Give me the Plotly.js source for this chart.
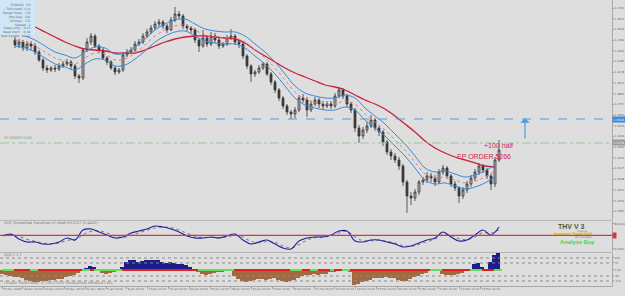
<!DOCTYPE html>
<html><head><meta charset="utf-8">
<script src="https://cdn.plot.ly/plotly-3.0.1.min.js"></script>
<style>html,body{margin:0;padding:0;background:#dedede;}#chart{width:625px;height:296px;}</style>
</head><body><div id="chart"></div>
<script>
// ---- H4 candles (price) ----
const openP = [1.440,1.435,1.438,1.432,1.436,1.434,1.428,1.420,1.412,1.410,
1.412,1.411,1.414,1.416,1.418,1.414,1.404,1.402,1.430,1.438,
1.444,1.434,1.430,1.422,1.418,1.412,1.408,1.410,1.425,1.428,
1.430,1.436,1.438,1.444,1.448,1.452,1.456,1.458,1.454,1.450,
1.460,1.466,1.464,1.454,1.452,1.450,1.440,1.434,1.442,1.436,
1.444,1.440,1.434,1.436,1.442,1.444,1.438,1.436,1.424,1.414,
1.406,1.408,1.412,1.416,1.406,1.398,1.390,1.382,1.374,1.368,
1.366,1.370,1.382,1.380,1.370,1.376,1.380,1.376,1.374,1.376,
1.374,1.384,1.390,1.384,1.376,1.370,1.352,1.344,1.350,1.354,
1.360,1.352,1.348,1.338,1.328,1.324,1.320,1.314,1.298,1.284,
1.282,1.288,1.298,1.300,1.304,1.302,1.298,1.308,1.312,1.304,
1.296,1.292,1.284,1.290,1.296,1.302,1.308,1.314,1.310,1.304,
1.296,1.320];
const highP = [1.443,1.441,1.440,1.439,1.439,1.437,1.430,1.422,1.415,1.414,
1.415,1.417,1.419,1.421,1.420,1.416,1.406,1.432,1.442,1.447,
1.446,1.436,1.432,1.424,1.420,1.414,1.412,1.428,1.431,1.433,
1.439,1.441,1.447,1.451,1.455,1.459,1.461,1.460,1.456,1.463,
1.473,1.469,1.466,1.456,1.454,1.452,1.442,1.450,1.444,1.448,
1.447,1.442,1.438,1.445,1.451,1.446,1.440,1.438,1.426,1.416,
1.410,1.415,1.418,1.418,1.408,1.400,1.392,1.384,1.376,1.370,
1.373,1.385,1.386,1.383,1.379,1.383,1.382,1.379,1.379,1.379,
1.387,1.393,1.392,1.386,1.378,1.372,1.355,1.353,1.358,1.365,
1.362,1.354,1.350,1.340,1.331,1.327,1.323,1.316,1.300,1.288,
1.291,1.300,1.303,1.308,1.307,1.305,1.311,1.315,1.314,1.306,
1.299,1.294,1.293,1.299,1.305,1.311,1.317,1.316,1.312,1.306,
1.323,1.340];
const lowP = [1.432,1.432,1.429,1.429,1.430,1.425,1.418,1.409,1.407,1.408,
1.408,1.409,1.412,1.414,1.411,1.401,1.397,1.400,1.428,1.435,
1.432,1.427,1.420,1.415,1.410,1.405,1.406,1.408,1.423,1.426,
1.428,1.434,1.436,1.442,1.446,1.450,1.453,1.451,1.447,1.449,
1.458,1.461,1.451,1.449,1.447,1.437,1.428,1.432,1.433,1.434,
1.437,1.431,1.432,1.434,1.440,1.435,1.432,1.421,1.411,1.398,
1.403,1.406,1.410,1.404,1.395,1.387,1.379,1.371,1.365,1.361,
1.362,1.368,1.377,1.363,1.368,1.374,1.372,1.370,1.372,1.371,
1.372,1.382,1.381,1.373,1.367,1.348,1.337,1.341,1.347,1.352,
1.349,1.344,1.334,1.325,1.320,1.317,1.310,1.294,1.267,1.275,
1.279,1.285,1.295,1.297,1.298,1.294,1.296,1.305,1.301,1.293,
1.289,1.277,1.281,1.287,1.293,1.299,1.305,1.307,1.301,1.290,
1.293,1.318];
const closeP = [1.435,1.438,1.432,1.436,1.434,1.428,1.420,1.412,1.410,1.412,
1.411,1.414,1.416,1.418,1.414,1.404,1.402,1.430,1.438,1.444,
1.434,1.430,1.422,1.418,1.412,1.408,1.410,1.425,1.428,1.430,
1.436,1.438,1.444,1.448,1.452,1.456,1.458,1.454,1.450,1.460,
1.466,1.464,1.454,1.452,1.450,1.440,1.434,1.442,1.436,1.444,
1.440,1.434,1.436,1.442,1.444,1.438,1.436,1.424,1.414,1.406,
1.408,1.412,1.416,1.406,1.398,1.390,1.382,1.374,1.368,1.366,
1.370,1.382,1.380,1.370,1.376,1.380,1.376,1.374,1.376,1.374,
1.384,1.390,1.384,1.376,1.370,1.352,1.344,1.350,1.354,1.360,
1.352,1.348,1.338,1.328,1.324,1.320,1.314,1.298,1.284,1.282,
1.288,1.298,1.300,1.304,1.302,1.298,1.308,1.312,1.304,1.296,
1.292,1.284,1.290,1.296,1.302,1.308,1.314,1.310,1.304,1.296,
1.320,1.330];

// ---- moving averages (sampled every 2.5 bars) ----
const slowMA = [1.460,1.457,1.453,1.448,1.443,1.438,1.434,1.431,1.430,1.429,
1.427,1.427,1.427,1.430,1.434,1.438,1.441,1.443,1.444,1.444,
1.443,1.442,1.441,1.437,1.430,1.424,1.418,1.412,1.407,1.403,
1.399,1.395,1.393,1.390,1.385,1.380,1.376,1.371,1.364,1.356,
1.348,1.339,1.332,1.327,1.323,1.320,1.317,1.314,1.313];
const bandMid = [1.440,1.438,1.434,1.428,1.422,1.419,1.416,1.422,1.427,1.426,
1.420,1.421,1.427,1.435,1.444,1.450,1.454,1.455,1.450,1.445,
1.443,1.442,1.442,1.438,1.430,1.422,1.412,1.400,1.388,1.381,
1.378,1.376,1.376,1.379,1.376,1.366,1.358,1.350,1.340,1.330,
1.318,1.306,1.302,1.303,1.300,1.297,1.299,1.303,1.309];
const bandUp = [1.446,1.444,1.440,1.434,1.428,1.425,1.422,1.428,1.433,1.432,
1.426,1.427,1.433,1.441,1.450,1.456,1.460,1.461,1.456,1.451,
1.449,1.448,1.448,1.444,1.436,1.428,1.418,1.406,1.394,1.387,
1.384,1.382,1.382,1.385,1.382,1.372,1.364,1.356,1.346,1.336,
1.324,1.312,1.308,1.309,1.306,1.303,1.305,1.309,1.315];
const bandDn = [1.434,1.432,1.428,1.422,1.416,1.413,1.410,1.416,1.421,1.420,
1.414,1.415,1.421,1.429,1.438,1.444,1.448,1.449,1.444,1.439,
1.437,1.436,1.436,1.432,1.424,1.416,1.406,1.394,1.382,1.375,
1.372,1.370,1.370,1.373,1.370,1.360,1.352,1.344,1.334,1.324,
1.312,1.300,1.296,1.297,1.294,1.291,1.293,1.297,1.303];

// ---- QQE oscillator (every 2 bars, starting bar -3) ----
const qqe = [48,54,39,30,30,24,24,30,42,36,
66,69,60,51,42,45,57,63,69,78,
75,69,60,48,42,42,45,42,48,54,
36,24,30,36,24,12,9,33,42,45,
45,51,63,63,33,30,36,36,30,24,
15,18,27,36,42,60,45,33,36,51,
66,51,75];
const qqeSig = [50,52,47,38,32,27,25,27,35,37,
52,62,64,57,48,44,50,58,65,72,
75,73,66,56,47,43,44,43,45,50,
44,32,28,32,29,18,12,22,36,43,
45,48,57,62,45,34,34,35,32,27,
19,17,23,31,39,52,50,40,37,45,
58,57,66];

// ---- histogram (every bar, starting bar -3) ----
const hist = [-40,-50,-60,-70,-75,-80,-100,-110,-120,-120,
-115,-110,-100,-100,-95,-90,-70,-60,-50,-30,
0,20,40,25,10,-30,-40,-30,-20,-10,
30,80,100,95,80,90,100,100,95,100,
80,70,75,70,60,55,50,30,10,-20,
-40,-50,-45,-30,-20,-25,-15,-10,-60,-90,
-110,-120,-115,-100,-95,-90,-100,-95,-80,-100,
-115,-120,-110,-100,-80,-60,-50,-55,-45,-50,
-40,-45,-25,-20,-15,-10,10,-20,-155,-140,
-120,-110,-100,-85,-80,-80,-75,-80,-85,-100,
-115,-110,-90,-70,-60,-40,-30,-10,0,-5,
-40,-50,-55,-50,-45,-30,-10,0,60,70,
30,0,80,150,170];
const trendState = ("ggg"+"rrrr"+"gg"+"rrrrrrrrrrr"+"ggrggggggg"+"rrrrrrrrrrrrrrrrrrr"+"ggggggggg"+
  "rrrrrrrrrrrrrr"+"ggg"+"rrggrrrgrrg"+"g"+"rrr"+"rrrrrrrrrrrrrrrrr"+"ggg"+"rrrrrrr"+"ggg"+"rrr"+"gg").split("");

// ---- axis labels ----
const priceTicks = [1.4720,1.4613,1.4506,1.4399,1.4292,1.4185,1.4078,1.3971,1.3864,1.3757,
1.3650,1.3543,1.3436,1.3329,1.3222,1.3115,1.3008,1.2901,1.2794,1.2687];
const priceTickText = priceTicks.map(v => v.toFixed(4));
const timeTicks = [-3.25,1.95,7.15,12.35,17.55,22.75,27.95,33.15,38.35,43.55,48.75,53.95,
59.15,64.35,69.55,74.75,79.95,85.15,90.35,95.55,100.75,105.95,111.15,116.35];
const timeLabels = ["15 Dec 2008","18 Dec 04:00","22 Dec 20:00","26 Dec 16:00","31 Dec 08:00","5 Jan 04:00",
"8 Jan 20:00","13 Jan 12:00","16 Jan 04:00","20 Jan 20:00","23 Jan 12:00","28 Jan 04:00",
"30 Jan 20:00","4 Feb 12:00","9 Feb 04:00","11 Feb 20:00","16 Feb 12:00","19 Feb 04:00",
"23 Feb 20:00","26 Feb 12:00","3 Mar 04:00","5 Mar 20:00","10 Mar 12:00","13 Mar 04:00"];

const barIdx = closeP.map((_, i) => i);
const maIdx = slowMA.map((_, k) => k * 2.5);
const qqeIdx = qqe.map((_, j) => -3 + 2 * j);
const histIdx = hist.map((_, j) => j - 3);

const traces = [
  {type:'scatter', mode:'lines', x:maIdx, y:slowMA, line:{color:'#c8203c', width:1.3, shape:'spline'}, hoverinfo:'skip'},
  {type:'scatter', mode:'lines', x:maIdx, y:bandUp, line:{color:'#3a8ad8', width:1, shape:'spline'}, hoverinfo:'skip'},
  {type:'scatter', mode:'lines', x:maIdx, y:bandMid, line:{color:'#e07a8a', width:1, dash:'dot', shape:'spline'}, hoverinfo:'skip'},
  {type:'scatter', mode:'lines', x:maIdx, y:bandDn, line:{color:'#3a8ad8', width:1, shape:'spline'}, hoverinfo:'skip'},
  {type:'candlestick', x:barIdx, open:openP, high:highP, low:lowP, close:closeP,
   increasing:{line:{color:'#3a3a3a', width:0.8}, fillcolor:'#b4b4b4'},
   decreasing:{line:{color:'#3a3a3a', width:0.8}, fillcolor:'#3a3a3a'},
   whiskerwidth:0, hoverinfo:'skip'},
  {type:'scatter', mode:'lines', x:qqeIdx, y:qqeSig, xaxis:'x', yaxis:'y2', line:{color:'#8a8a8a', width:1.2, dash:'dot', shape:'spline'}, hoverinfo:'skip'},
  {type:'scatter', mode:'lines', x:qqeIdx, y:qqe, xaxis:'x', yaxis:'y2', line:{color:'#1f1fa0', width:1.1, shape:'spline'}, hoverinfo:'skip'},
  {type:'bar', x:histIdx, y:hist, xaxis:'x', yaxis:'y3', width:1.0,
   marker:{color:hist.map(v => v >= 0 ? '#1c1c8a' : '#a4683c'), line:{width:0}}, hoverinfo:'skip'},
  {type:'bar', x:histIdx, y:trendState.map(() => 24), base:trendState.map(() => -12), xaxis:'x', yaxis:'y3', width:1.0,
   marker:{color:trendState.map(s => s === 'g' ? '#66dd55' : '#dd2222'), line:{width:0}}, hoverinfo:'skip'}
];

const axisCommon = {showgrid:false, zeroline:false, showline:true, linecolor:'#a8a8a8', linewidth:1,
  ticks:'outside', ticklen:1, tickcolor:'#999', tickfont:{size:2.8, color:'#666'}, fixedrange:true};

const layout = {
  width:625, height:296,
  margin:{l:0, r:13, t:0, b:10, pad:0},
  paper_bgcolor:'#dedede', plot_bgcolor:'#dedede',
  showlegend:false, bargap:0,
  font:{family:'DejaVu Sans, Arial, sans-serif', size:4, color:'#666'},
  xaxis:{domain:[0,1], range:[-3.75,149.25], anchor:'y3', rangeslider:{visible:false},
    tickvals:timeTicks, ticktext:timeLabels, ticklabelposition:'outside right', tickangle:0,
    ticks:'outside', ticklen:2, tickcolor:'#999', tickfont:{size:2.8, color:'#666'},
    showgrid:false, zeroline:false, showline:true, linecolor:'#a8a8a8', fixedrange:true},
  yaxis:Object.assign({}, axisCommon, {domain:[0.2308,1], range:[1.260,1.480], side:'right', anchor:'x',
    tickvals:priceTicks, ticktext:priceTickText}),
  yaxis2:Object.assign({}, axisCommon, {domain:[0.1189,0.2273], range:[0,93], side:'right', anchor:'x',
    tickvals:[84,9], ticktext:['84.0000','9.0000']}),
  yaxis3:Object.assign({}, axisCommon, {domain:[0,0.1154], range:[-160,170], side:'right', anchor:'x',
    tickvals:[120,70,0,-60,-110], ticktext:['120','70','0.00','-60','-110']}),
  shapes:[
    {type:'line', xref:'paper', yref:'y', x0:0, x1:1, y0:1.361, y1:1.361, line:{color:'#5b9bd5', width:1, dash:'dash'}},
    {type:'line', xref:'paper', yref:'y', x0:0, x1:1, y0:1.337, y1:1.337, line:{color:'#9cc79c', width:1, dash:'dashdot'}},
    {type:'line', xref:'paper', yref:'paper', x0:0, x1:1, y0:0.2295, y1:0.2295, line:{color:'#b4b4b4', width:1}},
    {type:'line', xref:'paper', yref:'paper', x0:0, x1:1, y0:0.1172, y1:0.1172, line:{color:'#b4b4b4', width:1}},
    {type:'line', xref:'paper', yref:'y2', x0:0, x1:1, y0:50, y1:50, line:{color:'#d8344c', width:1.2}},
    {type:'line', xref:'paper', yref:'y3', x0:0, x1:1, y0:120, y1:120, line:{color:'#8a8a8a', width:1, dash:'dot'}},
    {type:'line', xref:'paper', yref:'y3', x0:0, x1:1, y0:70, y1:70, line:{color:'#8a8a8a', width:1, dash:'dot'}},
    {type:'line', xref:'paper', yref:'y3', x0:0, x1:1, y0:-60, y1:-60, line:{color:'#8a8a8a', width:1, dash:'dot'}},
    {type:'line', xref:'paper', yref:'y3', x0:0, x1:1, y0:-110, y1:-110, line:{color:'#8a8a8a', width:1, dash:'dot'}},
    {type:'rect', xref:'paper', yref:'paper', x0:0, x1:0.0572, y0:0.874, y1:1, fillcolor:'#cfe7f7', line:{width:0}}
  ],
  annotations:[
    {xref:'paper', yref:'paper', x:0.054, y:0.995, xanchor:'right', yanchor:'top', align:'right', showarrow:false,
     text:'EURUSD   H4<br>-- Tuf(crowd) &lt;1.0<br>Range Today:  170<br>Prev Day:  282<br>30 Days:  174<br>Spread:  3<br>Swap Long:  -0.23<br>Swap Short:  -0.49<br>New Candle:  93:37',
     font:{size:3, color:'#666'}},
    {xref:'paper', yref:'y', x:0.003, y:1.3375, xanchor:'left', yanchor:'bottom', showarrow:false,
     text:'EP ORDER 5266', font:{size:3.5, color:'#888'}},
    {xref:'x', yref:'y', x:120.75, y:1.334, showarrow:false, text:'+100 half', font:{size:7, color:'#d0284a', family:'Arial, Liberation Sans, sans-serif'}},
    {xref:'x', yref:'y', x:117.25, y:1.323, showarrow:false, text:'EP ORDER 5266', font:{size:7, color:'#d0284a', family:'Arial, Liberation Sans, sans-serif'}},
    {xref:'x', yref:'y', x:127.5, y:1.362, ax:0, ay:22, showarrow:true, arrowhead:1, arrowsize:1.3, arrowwidth:1.2, arrowcolor:'#4a9de8', text:''},
    {xref:'paper', yref:'y', x:1, y:1.361, xanchor:'left', showarrow:false, text:'1.3610', bgcolor:'#3c86d8', font:{size:3, color:'#fff'}, borderpad:0.5},
    {xref:'paper', yref:'y', x:1, y:1.337, xanchor:'left', showarrow:false, text:'1.3370', bgcolor:'#9a9a9a', font:{size:3, color:'#fff'}, borderpad:0.5},
    {xref:'paper', yref:'y2', x:1, y:50, xanchor:'left', showarrow:false, text:'&nbsp;&nbsp;', bgcolor:'#d8344c', font:{size:3}, borderpad:0.3},
    {xref:'paper', yref:'y2', x:0.003, y:85.5, xanchor:'left', showarrow:false, text:'QQE (Smoothed Trendline) 67.9648 63.0327 (0.4420)', font:{size:3.5, color:'#777'}},
    {xref:'paper', yref:'y3', x:0.003, y:150, xanchor:'left', showarrow:false, text:'QQE 1 2 1', font:{size:3.5, color:'#777'}},
    {xref:'paper', yref:'y3', x:0.003, y:-130, xanchor:'left', showarrow:false, text:'FXOpen MetaTrader, © 2001-2009 MetaQuotes Software Corp.', font:{size:3.5, color:'#888'}},
    {xref:'paper', yref:'y2', x:0.959, y:77, showarrow:false, text:'<b>THV V 3</b>', font:{size:7, color:'#55552a', family:'Arial, Liberation Sans, sans-serif'}},
    {xref:'paper', yref:'y2', x:0.962, y:62.5, showarrow:false, text:'Analyze', font:{size:2.5, color:'#777'}},
    {xref:'paper', yref:'y2', x:0.97, y:53, showarrow:false, text:'<b>Investor Trade Sell</b>', font:{size:3.6, color:'#e0a400'}},
    {xref:'paper', yref:'y2', x:0.97, y:43.5, showarrow:false, text:'Fib Complete', font:{size:2.5, color:'#777'}},
    {xref:'paper', yref:'y2', x:0.976, y:29, showarrow:false, text:'<b>Analyze Buy</b>', font:{size:5.8, color:'#3bdc3b', family:'Arial, Liberation Sans, sans-serif'}}
  ]
};

Plotly.newPlot('chart', traces, layout, {staticPlot:true, displayModeBar:false});
</script>
</body></html>
